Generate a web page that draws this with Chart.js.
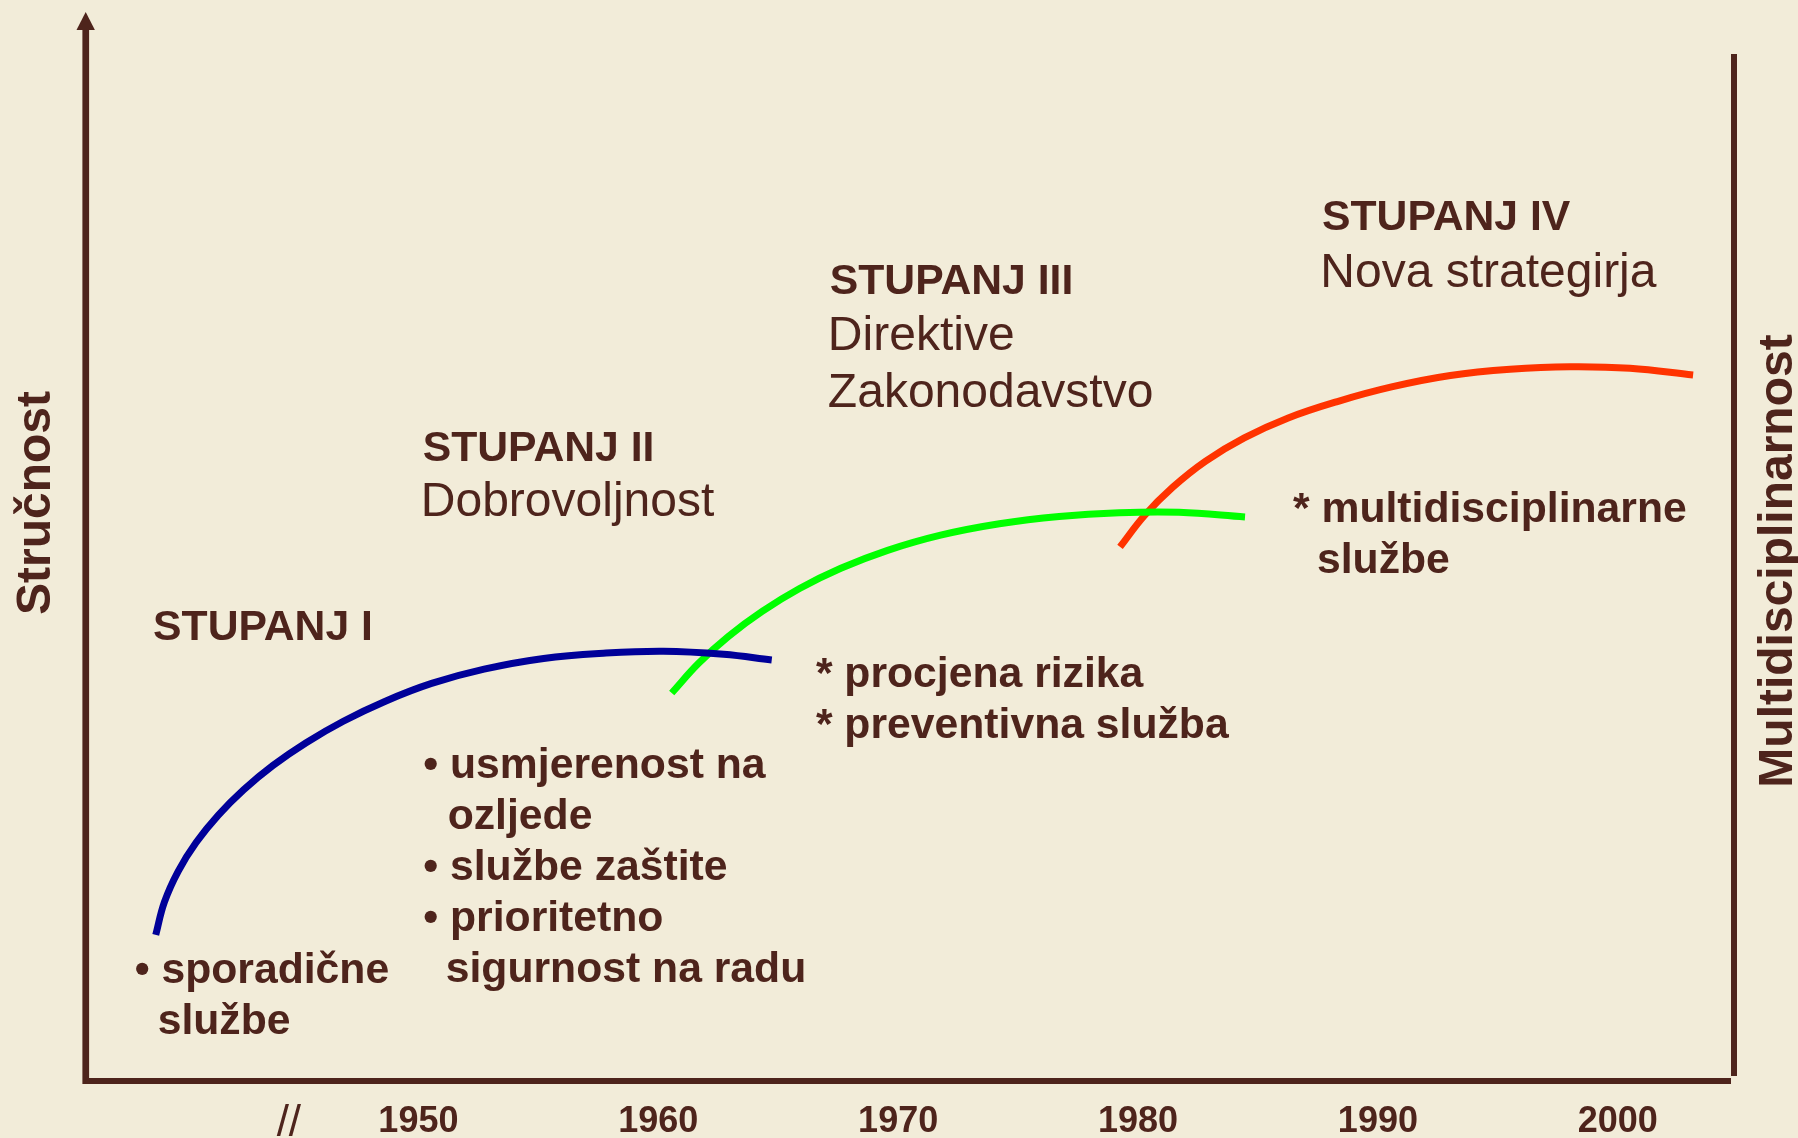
<!DOCTYPE html>
<html lang="hr">
<head>
<meta charset="utf-8">
<title>Stupnjevi razvoja zaštite na radu</title>
<script src="https://cdn.jsdelivr.net/npm/chart.js@4.4.1/dist/chart.umd.min.js"></script>
<style>
  html, body { margin: 0; padding: 0; background: #f2ecd9; }
  canvas { display: block; }
</style>
</head>
<body>
<canvas id="stupnjevi" width="1798" height="1138"></canvas>
<script>
// x = godina, y = razina (0 - 100)
const tickYears = [1950, 1960, 1970, 1980, 1990, 2000];
const tickLabels = ["1950", "1960", "1970", "1980", "1990", "2000"];
const breakYear = 1944.6; // oznaka prekida osi "//"

// Stupanj I (plava)
const stupanj1X = [1939.05, 1939.41, 1939.99, 1940.74, 1941.66, 1942.72, 1943.94, 1945.32, 1946.87, 1948.6, 1950.55, 1952.74, 1955.22, 1957.71, 1960.21, 1962.72, 1964.73];
const stupanj1Y = [14.22, 17.41, 20.44, 23.24, 25.89, 28.37, 30.73, 32.94, 35.03, 36.96, 38.71, 40.1, 41.14, 41.65, 41.85, 41.55, 40.99];

// Stupanj II/III (zelena)
const stupanj2X = [1960.56, 1961.68, 1962.92, 1964.33, 1965.89, 1967.61, 1969.56, 1971.77, 1974.22, 1976.71, 1979.21, 1981.71, 1984.46];
const stupanj2Y = [37.78, 40.67, 43.28, 45.72, 47.95, 49.92, 51.67, 53.15, 54.26, 54.97, 55.33, 55.37, 54.92];

// Stupanj IV (crvena)
const stupanj3X = [1979.25, 1980.27, 1981.45, 1982.82, 1984.43, 1986.26, 1988.31, 1990.57, 1993.02, 1995.51, 1998.01, 2000.51, 2003.14];
const stupanj3Y = [52.0, 55.06, 57.82, 60.36, 62.62, 64.56, 66.16, 67.58, 68.69, 69.3, 69.55, 69.4, 68.74];

const BOJA_TEKSTA = "#4e241c";
const POZADINA = "#f2ecd9";
const FONT = "'Liberation Sans', Arial, sans-serif";

// tekstovi na dijagramu (x = godina, y = razina)
const napomene = [
  { text: "STUPANJ I", x: 1938.94, y: 42.94, bold: true },
  { text: "• sporadične", x: 1938.17, y: 9.54, bold: true },
  { text: "službe", x: 1939.13, y: 4.58, bold: true },
  { text: "STUPANJ II", x: 1950.18, y: 60.37, bold: true },
  { text: "Dobrovoljnost", x: 1950.1, y: 55.01, bold: false },
  { text: "• usmjerenost na", x: 1950.2, y: 29.5, bold: true },
  { text: "ozljede", x: 1951.22, y: 24.54, bold: true },
  { text: "• službe zaštite", x: 1950.2, y: 19.57, bold: true },
  { text: "• prioritetno", x: 1950.2, y: 14.61, bold: true },
  { text: "sigurnost na radu", x: 1951.14, y: 9.64, bold: true },
  { text: "STUPANJ III", x: 1967.15, y: 76.63, bold: true },
  { text: "Direktive", x: 1967.07, y: 71.18, bold: false },
  { text: "Zakonodavstvo", x: 1967.07, y: 65.63, bold: false },
  { text: "* procjena rizika", x: 1966.57, y: 38.36, bold: true },
  { text: "* preventivna služba", x: 1966.57, y: 33.4, bold: true },
  { text: "STUPANJ IV", x: 1987.67, y: 82.86, bold: true },
  { text: "Nova strategirja", x: 1987.6, y: 77.31, bold: false },
  { text: "* multidisciplinarne", x: 1986.46, y: 54.43, bold: true },
  { text: "službe", x: 1987.46, y: 49.46, bold: true },
];

function tocke(xs, ys) {
  return xs.map((x, i) => ({ x: x, y: ys[i] }));
}

// crta osi, oznake i tekstove
const crtezPlugin = {
  id: "crtez",
  beforeDraw(chart) {
    const { ctx, width, height } = chart;
    ctx.save();
    ctx.fillStyle = POZADINA;
    ctx.fillRect(0, 0, width, height);
    ctx.restore();
  },
  beforeDatasetsDraw(chart) {
    const { ctx, chartArea: ca } = chart;
    const xs = chart.scales.x;
    ctx.save();
    ctx.fillStyle = BOJA_TEKSTA;
    // lijeva os sa strelicom
    ctx.fillRect(ca.left - 3.3, 30, 6.7, ca.bottom + 3 - 30);
    ctx.beginPath();
    ctx.moveTo(ca.left - 9.2, 30);
    ctx.lineTo(ca.left + 9.2, 30);
    ctx.lineTo(ca.left, 12);
    ctx.closePath();
    ctx.fill();
    // donja os
    ctx.fillRect(ca.left, ca.bottom - 3, ca.right - ca.left, 6);
    // desna os
    ctx.fillRect(ca.right, ca.top, 6, ca.bottom - 5 - ca.top);

    // godine
    ctx.font = "bold 36px " + FONT;
    ctx.textAlign = "center";
    ctx.textBaseline = "alphabetic";
    tickYears.forEach((g, i) => {
      ctx.fillText(tickLabels[i], xs.getPixelForValue(g), ca.bottom + 51);
    });
    ctx.font = "44px " + FONT;
    ctx.fillText("//", xs.getPixelForValue(breakYear), ca.bottom + 55);

    // nazivi osi
    ctx.font = "bold 48px " + FONT;
    ctx.save();
    ctx.translate(50, 503);
    ctx.rotate(-Math.PI / 2);
    ctx.fillText("Stručnost", 0, 0);
    ctx.restore();
    ctx.save();
    ctx.translate(1792, 561);
    ctx.rotate(-Math.PI / 2);
    ctx.fillText("Multidisciplinarnost", 0, 0);
    ctx.restore();
    ctx.restore();
  },
  afterDatasetsDraw(chart) {
    const { ctx } = chart;
    const xs = chart.scales.x;
    const ys = chart.scales.y;
    ctx.save();
    ctx.fillStyle = BOJA_TEKSTA;
    ctx.textAlign = "left";
    ctx.textBaseline = "alphabetic";
    napomene.forEach((n) => {
      ctx.font = (n.bold ? "bold 42.7px " : "48px ") + FONT;
      ctx.fillText(n.text, xs.getPixelForValue(n.x), ys.getPixelForValue(n.y));
    });
    ctx.restore();
  },
};

function dijagramStupnjeva() {
  const ctx = document.getElementById("stupnjevi");
  new Chart(ctx, {
    type: "line",
    data: {
      datasets: [
        { label: "Stupanj I", data: tocke(stupanj1X, stupanj1Y), borderColor: "#000099" },
        { label: "Stupanj II", data: tocke(stupanj2X, stupanj2Y), borderColor: "#00ff00" },
        { label: "Stupanj IV", data: tocke(stupanj3X, stupanj3Y), borderColor: "#ff3300" },
      ],
    },
    options: {
      responsive: false,
      animation: false,
      layout: { padding: { left: 85.7, right: 67, top: 54, bottom: 57 } },
      elements: {
        line: { borderWidth: 7, tension: 0.4, fill: false, borderCapStyle: "butt" },
        point: { radius: 0, hoverRadius: 0 },
      },
      scales: {
        x: { type: "linear", min: 1936.13, max: 2004.72, display: false },
        y: { type: "linear", min: 0, max: 100, display: false },
      },
      plugins: {
        legend: { display: false },
        tooltip: { enabled: false },
      },
    },
    plugins: [crtezPlugin],
  });
}

document.addEventListener("DOMContentLoaded", dijagramStupnjeva);
</script>
</body>
</html>
